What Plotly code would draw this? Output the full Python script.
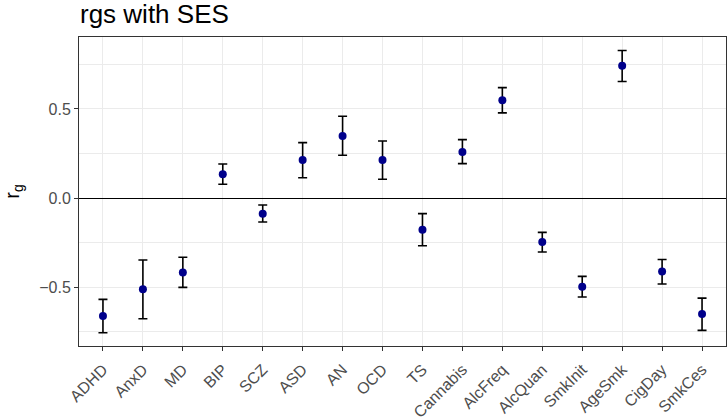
import plotly.graph_objects as go

categories = ["ADHD", "AnxD", "MD", "BIP", "SCZ", "ASD", "AN", "OCD", "TS", "Cannabis",
              "AlcFreq", "AlcQuan", "SmkInit", "AgeSmk", "CigDay", "SmkCes"]
rg = [-0.663, -0.513, -0.418, 0.133, -0.088, 0.213, 0.348, 0.213, -0.178, 0.258,
      0.549, -0.247, -0.498, 0.742, -0.412, -0.652]
upper = [-0.569, -0.348, -0.333, 0.191, -0.039, 0.311, 0.459, 0.320, -0.088, 0.328,
         0.620, -0.193, -0.440, 0.828, -0.345, -0.562]
lower = [-0.757, -0.678, -0.502, 0.077, -0.135, 0.114, 0.240, 0.105, -0.268, 0.193,
         0.478, -0.303, -0.556, 0.654, -0.483, -0.743]
ytick_vals = [-0.5, 0.0, 0.5]
ytick_text = ["\u22120.5", "0.0", "0.5"]

err_plus = [u - v for u, v in zip(upper, rg)]
err_minus = [v - l for v, l in zip(rg, lower)]

fig = go.Figure()
fig.add_trace(go.Scatter(
    x=categories, y=rg, mode="markers",
    marker=dict(color="#00008B", size=8),
    error_y=dict(type="data", symmetric=False, array=err_plus, arrayminus=err_minus,
                 color="black", thickness=1.6, width=4.5),
    showlegend=False,
))

font = "Liberation Sans, Arial, sans-serif"
fig.update_layout(
    width=727, height=420,
    margin=dict(l=79, r=1, t=37, b=74, autoexpand=False),
    paper_bgcolor="white", plot_bgcolor="white",
    font=dict(family=font),
    title=dict(text="rgs with SES", x=80/727, xanchor="left", y=1 - 14/420, yanchor="middle",
               font=dict(size=26, color="black", family=font), automargin=False),
    xaxis=dict(
        type="category", range=[-0.6, 15.6], automargin=False,
        showgrid=True, gridcolor="#EBEBEB", gridwidth=1.1,
        ticks="outside", ticklen=4, tickcolor="#333333", tickwidth=1,
        tickangle=-45, tickfont=dict(size=16, color="#4D4D4D"),
        ticklabelstandoff=3,
        showline=True, linecolor="#333333", linewidth=1, mirror=True,
        zeroline=False,
    ),
    yaxis=dict(
        range=[-0.831, 0.904], automargin=False,
        tickvals=ytick_vals, ticktext=ytick_text,
        showgrid=True, gridcolor="#EBEBEB", gridwidth=1.1,
        minor=dict(dtick=0.25, tick0=0.25, showgrid=True, gridcolor="#EBEBEB", gridwidth=0.6),
        ticks="outside", ticklen=4, tickcolor="#333333", tickwidth=1,
        tickfont=dict(size=16, color="#4D4D4D"),
        showline=True, linecolor="#333333", linewidth=1, mirror=True,
        zeroline=True, zerolinecolor="black", zerolinewidth=1.2,
        title=dict(text="r<sub>g</sub>", font=dict(size=20, color="black"), standoff=14),
    ),
)

fig.write_html("out.html", config={"displayModeBar": False},
               post_script="document.body.style.margin='0';document.body.style.overflow='hidden';")
